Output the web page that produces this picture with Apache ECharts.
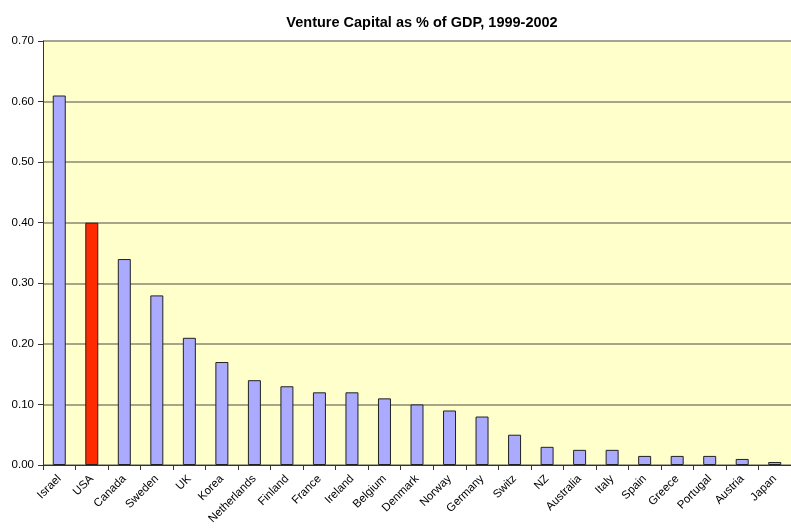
<!DOCTYPE html>
<html>
<head>
<meta charset="utf-8">
<script src="https://cdn.jsdelivr.net/npm/echarts@6/dist/echarts.min.js"></script>
<style>
  html, body { margin: 0; padding: 0; background: #fff; }
  #main { width: 791px; height: 529px; }
</style>
</head>
<body>
<div id="main"></div>
<script>
var countries = ['Israel', 'USA', 'Canada', 'Sweden', 'UK', 'Korea', 'Netherlands', 'Finland', 'France', 'Ireland',
  'Belgium', 'Denmark', 'Norway', 'Germany', 'Switz', 'NZ', 'Australia', 'Italy', 'Spain', 'Greece',
  'Portugal', 'Austria', 'Japan'];
var vcShare = [0.61, 0.40, 0.34, 0.28, 0.21, 0.17, 0.14, 0.13, 0.12, 0.12,
  0.11, 0.10, 0.09, 0.08, 0.05, 0.03, 0.025, 0.025, 0.015, 0.015,
  0.015, 0.01, 0.005];
var highlight = 'USA';

var myChart = echarts.init(document.getElementById('main'));

//柱子数据, USA 用红色
var barData = [];
for (var i = 0; i < countries.length; i++) {
  barData.push({
    value: vcShare[i],
    itemStyle: { color: countries[i] == highlight ? '#ff2a00' : '#aaaaff' }
  });
}

var option = {
  animation: false,
  textStyle: { fontFamily: 'Liberation Sans, Arial, sans-serif' },
  title: {
    text: 'Venture Capital as % of GDP, 1999-2002',
    left: 417,
    textAlign: 'center',
    top: 10,
    textStyle: { fontSize: 14.5, fontWeight: 'bold', color: '#000', fontFamily: 'Liberation Sans, Arial, sans-serif' }
  },
  grid: {
    left: 43,
    top: 41,
    width: 759,
    height: 424,
    show: true,
    backgroundColor: '#ffffcc',
    borderWidth: 0
  },
  xAxis: {
    type: 'category',
    data: countries,
    axisLine: { show: true, lineStyle: { color: '#333', width: 1 } },
    axisTick: { show: true, alignWithLabel: false, length: 5, lineStyle: { color: '#333' } },
    axisLabel: { rotate: 45, fontSize: 11.5, color: '#000', margin: 12, interval: 0 }
  },
  yAxis: {
    type: 'value',
    min: 0,
    max: 0.7,
    interval: 0.1,
    axisLine: { show: true, lineStyle: { color: '#333', width: 1 } },
    axisTick: { show: true, length: 5, lineStyle: { color: '#333' } },
    axisLabel: {
      fontSize: 11.5, color: '#000', margin: 9,
      formatter: function (v) { return v.toFixed(2); }
    },
    splitLine: { show: true, lineStyle: { color: '#8a8770', width: 1.5 } }
  },
  series: [{
    type: 'bar',
    data: barData,
    barWidth: 13,
    itemStyle: { borderColor: '#222', borderWidth: 1 }
  }]
};
myChart.setOption(option);
</script>
</body>
</html>
